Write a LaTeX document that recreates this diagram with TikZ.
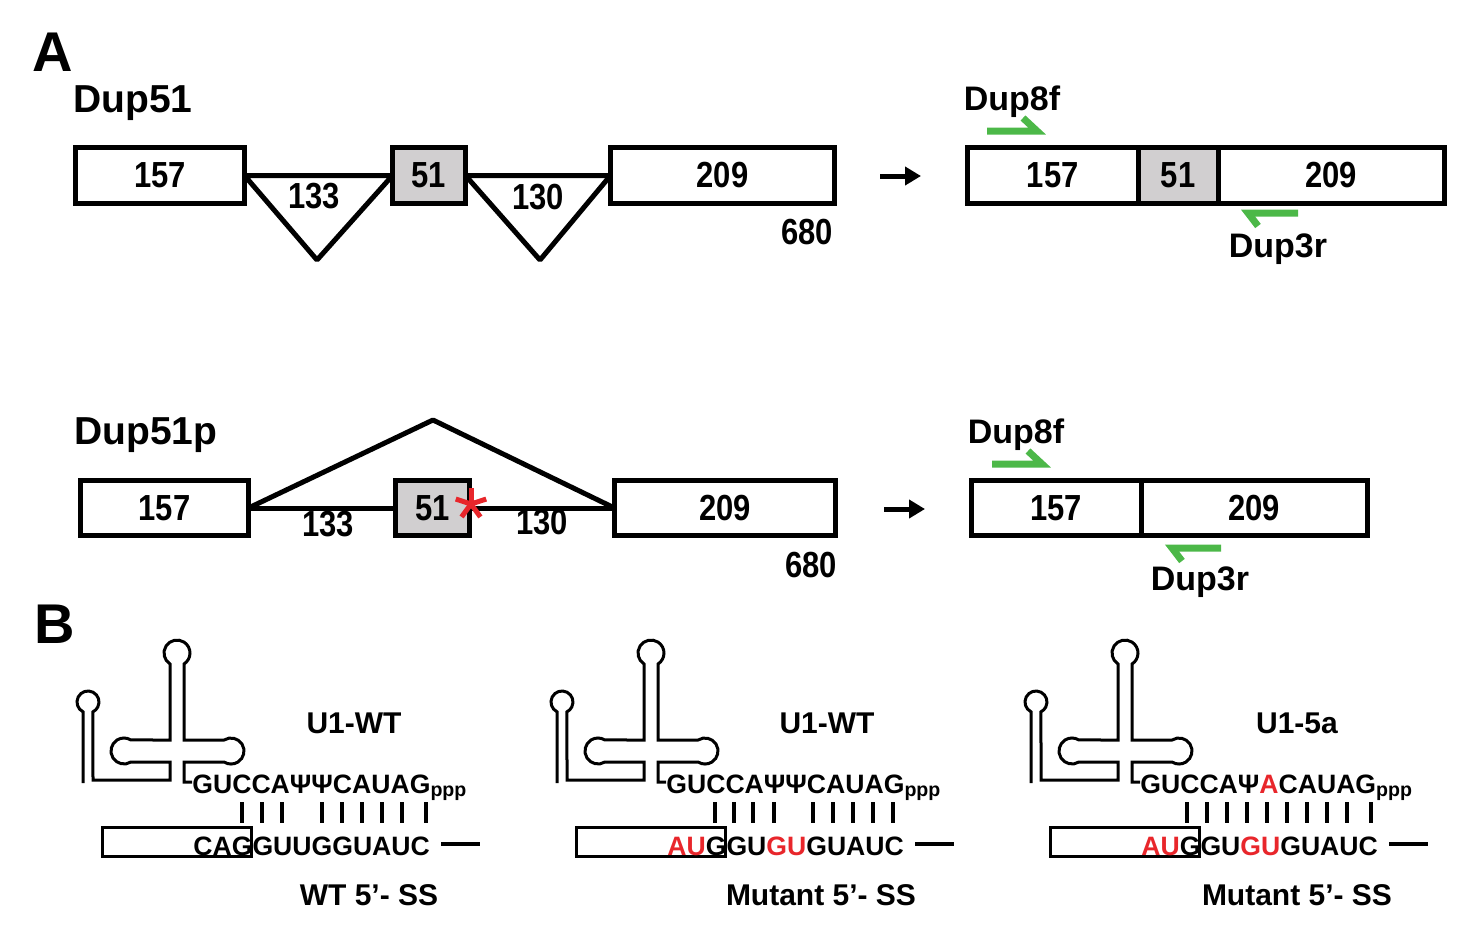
\documentclass[tikz,border=0pt]{standalone}
\usepackage{fontspec}
\usepackage{graphicx}
\setmainfont{Liberation Sans}
\usetikzlibrary{positioning,arrows.meta}
\definecolor{exongray}{HTML}{D1CFD0}
\definecolor{primergreen}{HTML}{4CB848}
\definecolor{mutred}{HTML}{E8262B}
\newcommand{\numfont}{\fontsize{15.5}{16}\selectfont\bfseries}
\newcommand{\tallnum}[1]{\scalebox{1}[1.17]{#1}}
\newcommand{\pppsub}{{\fontsize{9.8}{10}\selectfont\raisebox{-1.5pt}{ppp}}}
\begin{document}
\begin{tikzpicture}[x=0.5pt, y=-0.5pt, line join=miter,
  exon/.style={draw, line width=2.5pt, minimum height=28pt, inner sep=0pt, outer sep=0pt, font=\numfont},
  intron/.style={line width=2.5pt, line join=bevel},
  seglabel/.style={font=\numfont, inner sep=0pt},
  title/.style={font=\fontsize{19.5}{22}\selectfont\bfseries, inner sep=0pt},
  primer/.style={font=\fontsize{17}{19}\selectfont\bfseries, inner sep=0pt},
  primerline/.style={draw=primergreen, line width=3.5pt},
  panel/.style={font=\fontsize{28}{30}\selectfont\bfseries, inner sep=0pt},
  result/.style={line width=2.5pt, -{Triangle[length=8pt,width=9pt]}},
  seq/.style={anchor=base west, inner sep=0pt, font=\fontsize{13.3}{15}\selectfont\bfseries},
  u1name/.style={font=\fontsize{15}{17}\selectfont\bfseries, inner sep=0pt},
  u1line/.style={line width=1.5pt},
  pairbar/.style={line width=2pt}]
\useasboundingbox (0,0) rectangle (1464,933);

% panel A
\node[panel] (pa) at (53,52) {A};
\node[title, anchor=west] (dup51) at (73,103) {Dup51};
\node[exon, minimum width=84.5pt] (e1) at (160,175.5) {\tallnum{157}};
\node[exon, minimum width=36.5pt, fill=exongray] (e2) at (429,175.5) {\tallnum{51}};
\node[exon, minimum width=112pt] (e3) at (722.5,175.5) {\tallnum{209}};
\coordinate (t1) at (317,260);
\coordinate (t2) at (540,260);
\draw[intron] (e1.east) -- (t1) -- (e2.west) -- cycle;
\draw[intron] (e2.east) -- (t2) -- (e3.west) -- cycle;
\node[seglabel] (i1) at (314,196) {\tallnum{133}};
\node[seglabel] (i2) at (538,197) {\tallnum{130}};
\node[seglabel] (len1) at (807,232) {\tallnum{680}};
\coordinate (a1s) at (880,176);
\coordinate (a1e) at (921,176);
\draw[result] (a1s) -- (a1e);
\node[exon, minimum width=85.25pt] (r1) at (1052.75,175.5) {\tallnum{157}};
\node[exon, minimum width=40pt, fill=exongray, right=0pt of r1] (r2) {\tallnum{51}};
\node[exon, minimum width=113.25pt, right=0pt of r2] (r3) {\tallnum{209}};
\node[primer] (f1) at (1012,102) {Dup8f};
\draw[primerline] (987,131) -- (1037,131) -- (1023,118);
\draw[primerline] (1298,213) -- (1248,213) -- (1258,226);
\node[primer] (r1lab) at (1278,249) {Dup3r};

\node[title, anchor=west] (dup51p) at (74,435) {Dup51p};
\node[exon, minimum width=84pt, minimum height=27.5pt] (b1) at (164.5,508) {\tallnum{157}};
\node[exon, minimum width=37pt, minimum height=27.5pt, fill=exongray] (b2) at (432.5,508) {\tallnum{51}};
\node[exon, minimum width=110.5pt, minimum height=27.5pt] (b3) at (725,508) {\tallnum{209}};
\coordinate (sp) at (433,420);
\draw[intron] (b1.east) -- (b2.west);
\draw[intron] (b2.east) -- (b3.west);
\draw[intron] (b1.east) -- (sp) -- (b3.west);
\node[seglabel] (j1) at (328,524) {\tallnum{133}};
\node[seglabel] (j2) at (542,522) {\tallnum{130}};
\coordinate (ast) at (471,504);
\foreach \a in {90,162,234,306,18}
  \draw[mutred, line width=2.5pt] (ast) -- ++(\a:8pt);
\node[seglabel] (len2) at (811,565) {\tallnum{680}};
\coordinate (a2s) at (884,509);
\coordinate (a2e) at (925,509);
\draw[result] (a2s) -- (a2e);
\node[exon, minimum width=84.75pt, minimum height=27.5pt] (s1) at (1056.25,508) {\tallnum{157}};
\node[exon, minimum width=113.25pt, minimum height=27.5pt, right=0pt of s1] (s2) {\tallnum{209}};
\node[primer] (f2) at (1016,435) {Dup8f};
\draw[primerline] (992,464) -- (1042,464) -- (1028,451);
\draw[primerline] (1221,548) -- (1172,548) -- (1182,561);
\node[primer] (r2lab) at (1200,582) {Dup3r};

% panel B
\node[panel] (pb) at (55,624) {B};
\foreach \dx/\ux/\uname/\sx/\ss in {0/354/U1-WT/369/WT 5’- SS, 474/353/U1-WT/347/Mutant 5’- SS, 948/349/U1-5a/349/Mutant 5’- SS}{
\begin{scope}[xshift=\dx*0.5pt]
\draw[u1line] (83,783) -- (83,711.8) arc[start angle=243, end angle=-63, radius=5.5pt]
  -- (93,780) -- (170,780) -- (170,762) -- (130.9,762)
  arc[start angle=-57.9, end angle=-302.1, radius=6.5pt]
  -- (170,740) -- (170,664) arc[start angle=237.4, end angle=-57.4, radius=6.5pt]
  -- (184,740) -- (224.1,740) arc[start angle=122.1, end angle=-122.1, radius=6.5pt]
  -- (184,762) -- (184,782) -- (192,782);
\draw[u1line] (102,827) rectangle (251,856);
\draw[line width=2pt] (441,844) -- (480,844);
\node[u1name] at (\ux,723) {\uname};
\node[u1name] at (\sx,895) {\ss};
\end{scope}
}
\node[seq] (top1) at (192,793) {GUCCAΨΨCAUAG\pppsub};
\node[seq] (bot1) at (193,855) {CAGGUUGGUAUC};
\foreach \b in {242,262,282,322,342,362,382,402,426}
  \draw[pairbar] (\b,802) -- (\b,823);
\node[seq] (top2) at (666,793) {GUCCAΨΨCAUAG\pppsub};
\node[seq] (bot2) at (667,855) {\textcolor{mutred}{AU}GGU\textcolor{mutred}{GU}GUAUC};
\foreach \b in {715,734,753,774,813,833,853,873,893}
  \draw[pairbar] (\b,802) -- (\b,823);
\node[seq] (top3) at (1140,793) {GUCCAΨ\textcolor{mutred}{A}CAUAG\pppsub};
\node[seq] (bot3) at (1141,855) {\textcolor{mutred}{AU}GGU\textcolor{mutred}{GU}GUAUC};
\foreach \b in {1187,1207,1227,1247,1267,1287,1307,1327,1347,1371}
  \draw[pairbar] (\b,802) -- (\b,823);
\end{tikzpicture}
\end{document}
